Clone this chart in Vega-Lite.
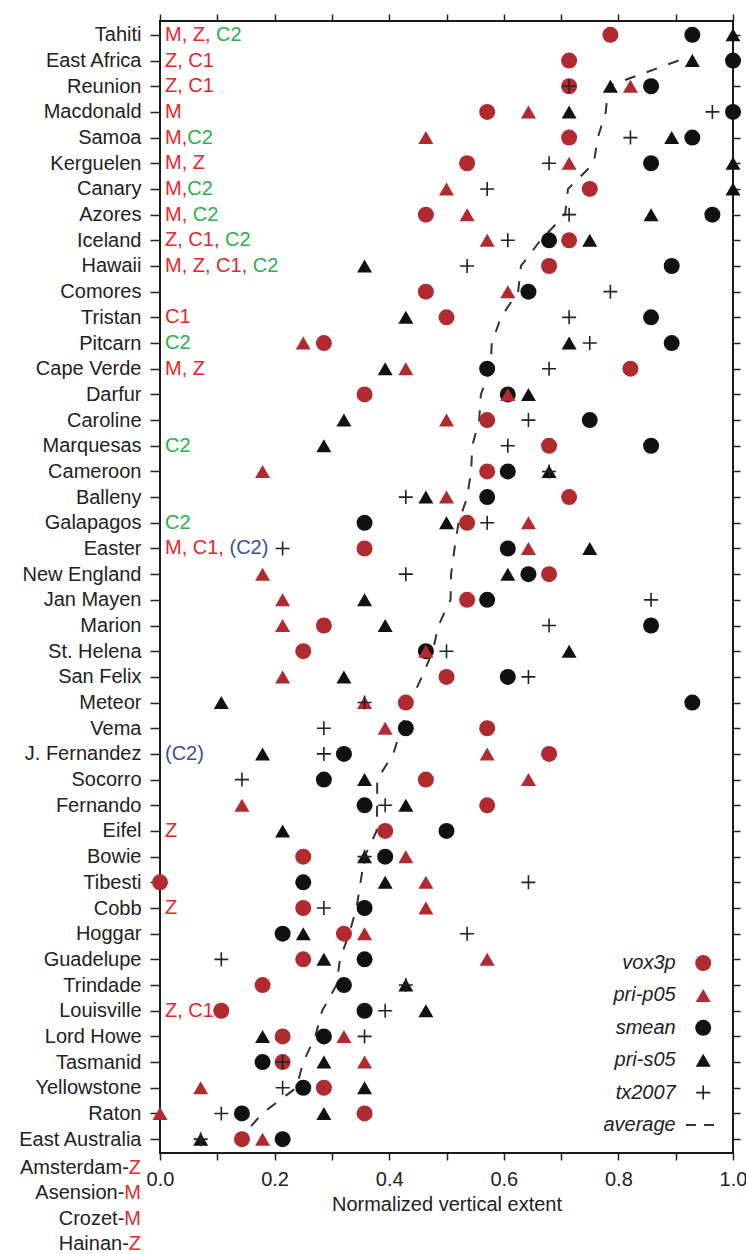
{
  "$schema": "https://vega.github.io/schema/vega-lite/v6.json",
  "width": 573,
  "height": 1132,
  "autosize": "none",
  "padding": {"left": 160, "top": 21, "right": 13, "bottom": 101},
  "background": "white",
  "config": {
    "view": {"stroke": "#1a1a1a", "strokeWidth": 2},
    "font": "Liberation Sans",
    "axis": {"labelFont": "Liberation Sans", "titleFont": "Liberation Sans", "labelFontSize": 20, "titleFontSize": 20, "titleFontWeight": "normal", "labelColor": "#222", "titleColor": "#222", "tickColor": "#222", "tickWidth": 1.5, "domain": false, "grid": false}
  },
  "datasets": {
    "points": [
      {"name": "Tahiti", "series": "vox3p", "value": 0.786}, {"name": "Tahiti", "series": "smean", "value": 0.929}, {"name": "Tahiti", "series": "pri-s05", "value": 1.0},
      {"name": "East Africa", "series": "vox3p", "value": 0.714}, {"name": "East Africa", "series": "pri-s05", "value": 0.929}, {"name": "East Africa", "series": "smean", "value": 1.0},
      {"name": "Reunion", "series": "vox3p", "value": 0.714}, {"name": "Reunion", "series": "tx2007", "value": 0.714}, {"name": "Reunion", "series": "pri-s05", "value": 0.786}, {"name": "Reunion", "series": "pri-p05", "value": 0.821}, {"name": "Reunion", "series": "smean", "value": 0.857},
      {"name": "Macdonald", "series": "vox3p", "value": 0.571}, {"name": "Macdonald", "series": "pri-p05", "value": 0.643}, {"name": "Macdonald", "series": "pri-s05", "value": 0.714}, {"name": "Macdonald", "series": "tx2007", "value": 0.964}, {"name": "Macdonald", "series": "smean", "value": 1.0},
      {"name": "Samoa", "series": "pri-p05", "value": 0.464}, {"name": "Samoa", "series": "vox3p", "value": 0.714}, {"name": "Samoa", "series": "tx2007", "value": 0.821}, {"name": "Samoa", "series": "pri-s05", "value": 0.893}, {"name": "Samoa", "series": "smean", "value": 0.929},
      {"name": "Kerguelen", "series": "vox3p", "value": 0.536}, {"name": "Kerguelen", "series": "tx2007", "value": 0.679}, {"name": "Kerguelen", "series": "pri-p05", "value": 0.714}, {"name": "Kerguelen", "series": "smean", "value": 0.857}, {"name": "Kerguelen", "series": "pri-s05", "value": 1.0},
      {"name": "Canary", "series": "pri-p05", "value": 0.5}, {"name": "Canary", "series": "tx2007", "value": 0.571}, {"name": "Canary", "series": "vox3p", "value": 0.75}, {"name": "Canary", "series": "pri-s05", "value": 1.0},
      {"name": "Azores", "series": "vox3p", "value": 0.464}, {"name": "Azores", "series": "pri-p05", "value": 0.536}, {"name": "Azores", "series": "tx2007", "value": 0.714}, {"name": "Azores", "series": "pri-s05", "value": 0.857}, {"name": "Azores", "series": "smean", "value": 0.964},
      {"name": "Iceland", "series": "pri-p05", "value": 0.571}, {"name": "Iceland", "series": "tx2007", "value": 0.607}, {"name": "Iceland", "series": "smean", "value": 0.679}, {"name": "Iceland", "series": "vox3p", "value": 0.714}, {"name": "Iceland", "series": "pri-s05", "value": 0.75},
      {"name": "Hawaii", "series": "pri-s05", "value": 0.357}, {"name": "Hawaii", "series": "tx2007", "value": 0.536}, {"name": "Hawaii", "series": "vox3p", "value": 0.679}, {"name": "Hawaii", "series": "smean", "value": 0.893},
      {"name": "Comores", "series": "vox3p", "value": 0.464}, {"name": "Comores", "series": "pri-p05", "value": 0.607}, {"name": "Comores", "series": "smean", "value": 0.643}, {"name": "Comores", "series": "tx2007", "value": 0.786},
      {"name": "Tristan", "series": "pri-s05", "value": 0.429}, {"name": "Tristan", "series": "vox3p", "value": 0.5}, {"name": "Tristan", "series": "tx2007", "value": 0.714}, {"name": "Tristan", "series": "smean", "value": 0.857},
      {"name": "Pitcarn", "series": "pri-p05", "value": 0.25}, {"name": "Pitcarn", "series": "vox3p", "value": 0.286}, {"name": "Pitcarn", "series": "pri-s05", "value": 0.714}, {"name": "Pitcarn", "series": "tx2007", "value": 0.75}, {"name": "Pitcarn", "series": "smean", "value": 0.893},
      {"name": "Cape Verde", "series": "pri-s05", "value": 0.393}, {"name": "Cape Verde", "series": "pri-p05", "value": 0.429}, {"name": "Cape Verde", "series": "smean", "value": 0.571}, {"name": "Cape Verde", "series": "tx2007", "value": 0.679}, {"name": "Cape Verde", "series": "vox3p", "value": 0.821},
      {"name": "Darfur", "series": "vox3p", "value": 0.357}, {"name": "Darfur", "series": "smean", "value": 0.607}, {"name": "Darfur", "series": "pri-p05", "value": 0.607}, {"name": "Darfur", "series": "pri-s05", "value": 0.643},
      {"name": "Caroline", "series": "pri-s05", "value": 0.321}, {"name": "Caroline", "series": "pri-p05", "value": 0.5}, {"name": "Caroline", "series": "vox3p", "value": 0.571}, {"name": "Caroline", "series": "tx2007", "value": 0.643}, {"name": "Caroline", "series": "smean", "value": 0.75},
      {"name": "Marquesas", "series": "pri-s05", "value": 0.286}, {"name": "Marquesas", "series": "tx2007", "value": 0.607}, {"name": "Marquesas", "series": "vox3p", "value": 0.679}, {"name": "Marquesas", "series": "smean", "value": 0.857},
      {"name": "Cameroon", "series": "pri-p05", "value": 0.179}, {"name": "Cameroon", "series": "vox3p", "value": 0.571}, {"name": "Cameroon", "series": "smean", "value": 0.607}, {"name": "Cameroon", "series": "pri-s05", "value": 0.679}, {"name": "Cameroon", "series": "tx2007", "value": 0.679},
      {"name": "Balleny", "series": "tx2007", "value": 0.429}, {"name": "Balleny", "series": "pri-s05", "value": 0.464}, {"name": "Balleny", "series": "pri-p05", "value": 0.5}, {"name": "Balleny", "series": "smean", "value": 0.571}, {"name": "Balleny", "series": "vox3p", "value": 0.714},
      {"name": "Galapagos", "series": "smean", "value": 0.357}, {"name": "Galapagos", "series": "pri-s05", "value": 0.5}, {"name": "Galapagos", "series": "vox3p", "value": 0.536}, {"name": "Galapagos", "series": "tx2007", "value": 0.571}, {"name": "Galapagos", "series": "pri-p05", "value": 0.643},
      {"name": "Easter", "series": "tx2007", "value": 0.214}, {"name": "Easter", "series": "vox3p", "value": 0.357}, {"name": "Easter", "series": "smean", "value": 0.607}, {"name": "Easter", "series": "pri-p05", "value": 0.643}, {"name": "Easter", "series": "pri-s05", "value": 0.75},
      {"name": "New England", "series": "pri-p05", "value": 0.179}, {"name": "New England", "series": "tx2007", "value": 0.429}, {"name": "New England", "series": "pri-s05", "value": 0.607}, {"name": "New England", "series": "smean", "value": 0.643}, {"name": "New England", "series": "vox3p", "value": 0.679},
      {"name": "Jan Mayen", "series": "pri-p05", "value": 0.214}, {"name": "Jan Mayen", "series": "pri-s05", "value": 0.357}, {"name": "Jan Mayen", "series": "vox3p", "value": 0.536}, {"name": "Jan Mayen", "series": "smean", "value": 0.571}, {"name": "Jan Mayen", "series": "tx2007", "value": 0.857},
      {"name": "Marion", "series": "pri-p05", "value": 0.214}, {"name": "Marion", "series": "vox3p", "value": 0.286}, {"name": "Marion", "series": "pri-s05", "value": 0.393}, {"name": "Marion", "series": "tx2007", "value": 0.679}, {"name": "Marion", "series": "smean", "value": 0.857},
      {"name": "St. Helena", "series": "vox3p", "value": 0.25}, {"name": "St. Helena", "series": "smean", "value": 0.464}, {"name": "St. Helena", "series": "pri-p05", "value": 0.464}, {"name": "St. Helena", "series": "tx2007", "value": 0.5}, {"name": "St. Helena", "series": "pri-s05", "value": 0.714},
      {"name": "San Felix", "series": "pri-p05", "value": 0.214}, {"name": "San Felix", "series": "pri-s05", "value": 0.321}, {"name": "San Felix", "series": "vox3p", "value": 0.5}, {"name": "San Felix", "series": "smean", "value": 0.607}, {"name": "San Felix", "series": "tx2007", "value": 0.643},
      {"name": "Meteor", "series": "pri-s05", "value": 0.107}, {"name": "Meteor", "series": "pri-p05", "value": 0.357}, {"name": "Meteor", "series": "tx2007", "value": 0.357}, {"name": "Meteor", "series": "vox3p", "value": 0.429}, {"name": "Meteor", "series": "smean", "value": 0.929},
      {"name": "Vema", "series": "tx2007", "value": 0.286}, {"name": "Vema", "series": "pri-p05", "value": 0.393}, {"name": "Vema", "series": "smean", "value": 0.429}, {"name": "Vema", "series": "vox3p", "value": 0.571},
      {"name": "J. Fernandez", "series": "pri-s05", "value": 0.179}, {"name": "J. Fernandez", "series": "tx2007", "value": 0.286}, {"name": "J. Fernandez", "series": "smean", "value": 0.321}, {"name": "J. Fernandez", "series": "pri-p05", "value": 0.571}, {"name": "J. Fernandez", "series": "vox3p", "value": 0.679},
      {"name": "Socorro", "series": "tx2007", "value": 0.143}, {"name": "Socorro", "series": "smean", "value": 0.286}, {"name": "Socorro", "series": "pri-s05", "value": 0.357}, {"name": "Socorro", "series": "vox3p", "value": 0.464}, {"name": "Socorro", "series": "pri-p05", "value": 0.643},
      {"name": "Fernando", "series": "pri-p05", "value": 0.143}, {"name": "Fernando", "series": "smean", "value": 0.357}, {"name": "Fernando", "series": "tx2007", "value": 0.393}, {"name": "Fernando", "series": "pri-s05", "value": 0.429}, {"name": "Fernando", "series": "vox3p", "value": 0.571},
      {"name": "Eifel", "series": "pri-s05", "value": 0.214}, {"name": "Eifel", "series": "vox3p", "value": 0.393}, {"name": "Eifel", "series": "smean", "value": 0.5},
      {"name": "Bowie", "series": "vox3p", "value": 0.25}, {"name": "Bowie", "series": "pri-s05", "value": 0.357}, {"name": "Bowie", "series": "tx2007", "value": 0.357}, {"name": "Bowie", "series": "smean", "value": 0.393}, {"name": "Bowie", "series": "pri-p05", "value": 0.429},
      {"name": "Tibesti", "series": "vox3p", "value": 0.0}, {"name": "Tibesti", "series": "smean", "value": 0.25}, {"name": "Tibesti", "series": "pri-s05", "value": 0.393}, {"name": "Tibesti", "series": "pri-p05", "value": 0.464}, {"name": "Tibesti", "series": "tx2007", "value": 0.643},
      {"name": "Cobb", "series": "vox3p", "value": 0.25}, {"name": "Cobb", "series": "tx2007", "value": 0.286}, {"name": "Cobb", "series": "smean", "value": 0.357}, {"name": "Cobb", "series": "pri-p05", "value": 0.464},
      {"name": "Hoggar", "series": "smean", "value": 0.214}, {"name": "Hoggar", "series": "pri-s05", "value": 0.25}, {"name": "Hoggar", "series": "vox3p", "value": 0.321}, {"name": "Hoggar", "series": "pri-p05", "value": 0.357}, {"name": "Hoggar", "series": "tx2007", "value": 0.536},
      {"name": "Guadelupe", "series": "tx2007", "value": 0.107}, {"name": "Guadelupe", "series": "vox3p", "value": 0.25}, {"name": "Guadelupe", "series": "pri-s05", "value": 0.286}, {"name": "Guadelupe", "series": "smean", "value": 0.357}, {"name": "Guadelupe", "series": "pri-p05", "value": 0.571},
      {"name": "Trindade", "series": "vox3p", "value": 0.179}, {"name": "Trindade", "series": "smean", "value": 0.321}, {"name": "Trindade", "series": "pri-s05", "value": 0.429}, {"name": "Trindade", "series": "tx2007", "value": 0.429},
      {"name": "Louisville", "series": "vox3p", "value": 0.107}, {"name": "Louisville", "series": "smean", "value": 0.357}, {"name": "Louisville", "series": "tx2007", "value": 0.393}, {"name": "Louisville", "series": "pri-s05", "value": 0.464},
      {"name": "Lord Howe", "series": "pri-s05", "value": 0.179}, {"name": "Lord Howe", "series": "vox3p", "value": 0.214}, {"name": "Lord Howe", "series": "smean", "value": 0.286}, {"name": "Lord Howe", "series": "pri-p05", "value": 0.321}, {"name": "Lord Howe", "series": "tx2007", "value": 0.357},
      {"name": "Tasmanid", "series": "smean", "value": 0.179}, {"name": "Tasmanid", "series": "vox3p", "value": 0.214}, {"name": "Tasmanid", "series": "tx2007", "value": 0.214}, {"name": "Tasmanid", "series": "pri-s05", "value": 0.286}, {"name": "Tasmanid", "series": "pri-p05", "value": 0.357},
      {"name": "Yellowstone", "series": "pri-p05", "value": 0.071}, {"name": "Yellowstone", "series": "tx2007", "value": 0.214}, {"name": "Yellowstone", "series": "smean", "value": 0.25}, {"name": "Yellowstone", "series": "vox3p", "value": 0.286}, {"name": "Yellowstone", "series": "pri-s05", "value": 0.357},
      {"name": "Raton", "series": "pri-p05", "value": 0.0}, {"name": "Raton", "series": "tx2007", "value": 0.107}, {"name": "Raton", "series": "smean", "value": 0.143}, {"name": "Raton", "series": "pri-s05", "value": 0.286}, {"name": "Raton", "series": "vox3p", "value": 0.357},
      {"name": "East Australia", "series": "pri-s05", "value": 0.071}, {"name": "East Australia", "series": "tx2007", "value": 0.071}, {"name": "East Australia", "series": "vox3p", "value": 0.143}, {"name": "East Australia", "series": "pri-p05", "value": 0.179}, {"name": "East Australia", "series": "smean", "value": 0.214}
    ],
    "avg": [
      {"rank": 2, "name": "East Africa", "value": 0.905}, {"rank": 3, "name": "Reunion", "value": 0.782}, {"rank": 4, "name": "Macdonald", "value": 0.778},
      {"rank": 5, "name": "Samoa", "value": 0.764}, {"rank": 6, "name": "Kerguelen", "value": 0.757}, {"rank": 7, "name": "Canary", "value": 0.712},
      {"rank": 8, "name": "Azores", "value": 0.707}, {"rank": 9, "name": "Iceland", "value": 0.664}, {"rank": 10, "name": "Hawaii", "value": 0.63},
      {"rank": 11, "name": "Comores", "value": 0.625}, {"rank": 12, "name": "Tristan", "value": 0.595}, {"rank": 13, "name": "Pitcarn", "value": 0.579},
      {"rank": 14, "name": "Cape Verde", "value": 0.577}, {"rank": 15, "name": "Darfur", "value": 0.56}, {"rank": 16, "name": "Caroline", "value": 0.557},
      {"rank": 17, "name": "Marquesas", "value": 0.545}, {"rank": 18, "name": "Cameroon", "value": 0.543}, {"rank": 19, "name": "Balleny", "value": 0.536},
      {"rank": 20, "name": "Galapagos", "value": 0.521}, {"rank": 21, "name": "Easter", "value": 0.514}, {"rank": 22, "name": "New England", "value": 0.508},
      {"rank": 23, "name": "Jan Mayen", "value": 0.507}, {"rank": 24, "name": "Marion", "value": 0.486}, {"rank": 25, "name": "St. Helena", "value": 0.476},
      {"rank": 26, "name": "San Felix", "value": 0.457}, {"rank": 27, "name": "Meteor", "value": 0.436}, {"rank": 28, "name": "Vema", "value": 0.421},
      {"rank": 29, "name": "J. Fernandez", "value": 0.407}, {"rank": 30, "name": "Socorro", "value": 0.379}, {"rank": 31, "name": "Fernando", "value": 0.379},
      {"rank": 32, "name": "Eifel", "value": 0.378}, {"rank": 33, "name": "Bowie", "value": 0.357}, {"rank": 34, "name": "Tibesti", "value": 0.35},
      {"rank": 35, "name": "Cobb", "value": 0.343}, {"rank": 36, "name": "Hoggar", "value": 0.33}, {"rank": 37, "name": "Guadelupe", "value": 0.314},
      {"rank": 38, "name": "Trindade", "value": 0.308}, {"rank": 39, "name": "Louisville", "value": 0.283}, {"rank": 40, "name": "Lord Howe", "value": 0.271},
      {"rank": 41, "name": "Tasmanid", "value": 0.25}, {"rank": 42, "name": "Yellowstone", "value": 0.238}, {"rank": 43, "name": "Raton", "value": 0.178},
      {"rank": 44, "name": "East Australia", "value": 0.14}
    ],
    "notes": [
      {"name": "Tahiti", "note": "M, Z, C2", "red": "M, Z,", "rest": "C2", "col": "green"},
      {"name": "East Africa", "note": "Z, C1", "red": "Z, C1", "rest": "", "col": "red"},
      {"name": "Reunion", "note": "Z, C1", "red": "Z, C1", "rest": "", "col": "red"},
      {"name": "Macdonald", "note": "M", "red": "M", "rest": "", "col": "red"},
      {"name": "Samoa", "note": "M,C2", "red": "M,", "rest": "C2", "col": "green"},
      {"name": "Kerguelen", "note": "M, Z", "red": "M, Z", "rest": "", "col": "red"},
      {"name": "Canary", "note": "M,C2", "red": "M,", "rest": "C2", "col": "green"},
      {"name": "Azores", "note": "M, C2", "red": "M,", "rest": "C2", "col": "green"},
      {"name": "Iceland", "note": "Z, C1, C2", "red": "Z, C1,", "rest": "C2", "col": "green"},
      {"name": "Hawaii", "note": "M, Z, C1, C2", "red": "M, Z, C1,", "rest": "C2", "col": "green"},
      {"name": "Tristan", "note": "C1", "red": "C1", "rest": "", "col": "red"},
      {"name": "Pitcarn", "note": "C2", "red": "", "rest": "C2", "col": "green"},
      {"name": "Cape Verde", "note": "M, Z", "red": "M, Z", "rest": "", "col": "red"},
      {"name": "Marquesas", "note": "C2", "red": "", "rest": "C2", "col": "green"},
      {"name": "Galapagos", "note": "C2", "red": "", "rest": "C2", "col": "green"},
      {"name": "Easter", "note": "M, C1, (C2)", "red": "M, C1,", "rest": "(C2)", "col": "blue"},
      {"name": "J. Fernandez", "note": "(C2)", "red": "", "rest": "(C2)", "col": "blue"},
      {"name": "Eifel", "note": "Z", "red": "Z", "rest": "", "col": "red"},
      {"name": "Cobb", "note": "Z", "red": "Z", "rest": "", "col": "red"},
      {"name": "Louisville", "note": "Z, C1", "red": "Z, C1", "rest": "", "col": "red"}
    ],
    "legend": [
      {"series": "vox3p"}, {"series": "pri-p05"}, {"series": "smean"}, {"series": "pri-s05"}, {"series": "tx2007"}, {"series": "average"}
    ],
    "extra": [
      {"label": "Amsterdam-", "code": "Z"}, {"label": "Asension-", "code": "M"}, {"label": "Crozet-", "code": "M"}, {"label": "Hainan-", "code": "Z"}
    ]
  },
  "resolve": {"scale": {"y": "independent"}, "axis": {"x": "independent", "y": "independent"}},
  "layer": [
    {
      "resolve": {"axis": {"x": "independent", "y": "independent"}},
      "encoding": {
        "y": {"field": "name", "type": "nominal", "scale": {"type": "point", "padding": 0.54, "domain": ["Tahiti", "East Africa", "Reunion", "Macdonald", "Samoa", "Kerguelen", "Canary", "Azores", "Iceland", "Hawaii", "Comores", "Tristan", "Pitcarn", "Cape Verde", "Darfur", "Caroline", "Marquesas", "Cameroon", "Balleny", "Galapagos", "Easter", "New England", "Jan Mayen", "Marion", "St. Helena", "San Felix", "Meteor", "Vema", "J. Fernandez", "Socorro", "Fernando", "Eifel", "Bowie", "Tibesti", "Cobb", "Hoggar", "Guadelupe", "Trindade", "Louisville", "Lord Howe", "Tasmanid", "Yellowstone", "Raton", "East Australia"]}, "axis": null}
      },
      "layer": [
        {
          "data": {"name": "avg"},
          "mark": {"type": "line", "stroke": "#333", "strokeWidth": 2, "strokeDash": [11, 12]},
          "encoding": {
            "x": {"field": "value", "type": "quantitative", "scale": {"domain": [0, 1], "nice": false, "zero": false},
                  "axis": {"values": [0, 0.1, 0.2, 0.3, 0.4, 0.5, 0.6, 0.7, 0.8, 0.9, 1.0], "labelExpr": "round(datum.value*10) % 2 == 0 ? format(datum.value, '.1f') : ''", "title": "Normalized vertical extent", "tickSize": 7, "labelPadding": 9, "titlePadding": 5, "labelFlush": false, "labelOverlap": false}},
            "y": {"field": "name", "type": "nominal", "axis": {"title": null, "tickSize": 10, "labelPadding": 9}},
            "order": {"field": "rank", "type": "quantitative"}
          }
        },
        {
          "data": {"name": "avg"},
          "mark": {"type": "point", "opacity": 0},
          "encoding": {
            "x": {"field": "value", "type": "quantitative", "axis": {"orient": "top", "values": [0, 0.1, 0.2, 0.3, 0.4, 0.5, 0.6, 0.7, 0.8, 0.9, 1.0], "labels": false, "title": null, "tickSize": 7}},
            "y": {"field": "name", "type": "nominal", "axis": {"orient": "right", "labels": false, "title": null, "tickSize": 7}}
          }
        },
        {
          "data": {"name": "points"},
          "transform": [{"filter": "datum.series == 'smean'"}],
          "mark": {"type": "point", "filled": true, "shape": "circle", "size": 256, "color": "#111", "opacity": 1},
          "encoding": {"x": {"field": "value", "type": "quantitative", "axis": null}}
        },
        {
          "data": {"name": "points"},
          "transform": [{"filter": "datum.series == 'pri-s05'"}],
          "mark": {"type": "point", "filled": true, "shape": "triangle-up", "size": 225, "color": "#111", "opacity": 1},
          "encoding": {"x": {"field": "value", "type": "quantitative", "axis": null}}
        },
        {
          "data": {"name": "points"},
          "transform": [{"filter": "datum.series == 'pri-p05'"}],
          "mark": {"type": "point", "filled": true, "shape": "triangle-up", "size": 225, "color": "#b02a30", "opacity": 1},
          "encoding": {"x": {"field": "value", "type": "quantitative", "axis": null}}
        },
        {
          "data": {"name": "points"},
          "transform": [{"filter": "datum.series == 'vox3p'"}],
          "mark": {"type": "point", "filled": true, "shape": "circle", "size": 256, "color": "#b02a30", "opacity": 1},
          "encoding": {"x": {"field": "value", "type": "quantitative", "axis": null}}
        },
        {
          "data": {"name": "points"},
          "transform": [{"filter": "datum.series == 'tx2007'"}],
          "mark": {"type": "point", "filled": false, "shape": "M-1,0L1,0M0,-1L0,1", "size": 196, "stroke": "#222", "strokeWidth": 1.6, "opacity": 1},
          "encoding": {"x": {"field": "value", "type": "quantitative", "axis": null}}
        },
        {
          "data": {"name": "notes"},
          "transform": [{"filter": "datum.red != ''"}],
          "mark": {"type": "text", "align": "left", "baseline": "middle", "dx": 5, "fontSize": 20, "font": "Liberation Sans", "color": "#e8262b"},
          "encoding": {"x": {"datum": 0, "type": "quantitative", "axis": null}, "text": {"field": "red"}}
        },
        {
          "data": {"name": "notes"},
          "transform": [{"filter": "datum.red == ''"}],
          "mark": {"type": "text", "align": "left", "baseline": "middle", "dx": 5, "fontSize": 20, "font": "Liberation Sans"},
          "encoding": {"x": {"datum": 0, "type": "quantitative", "axis": null}, "text": {"field": "rest"},
            "color": {"field": "col", "type": "nominal", "scale": {"domain": ["red", "green", "blue"], "range": ["#e8262b", "#2bb04a", "#3b4da3"]}, "legend": null}}
        },
        {
          "data": {"name": "notes"},
          "transform": [{"filter": "datum.note == 'M,C2'"}],
          "mark": {"type": "text", "align": "left", "baseline": "middle", "dx": 27.2, "fontSize": 20, "font": "Liberation Sans"},
          "encoding": {"x": {"datum": 0, "type": "quantitative", "axis": null}, "text": {"field": "rest"},
            "color": {"field": "col", "type": "nominal", "legend": null}}
        },
        {
          "data": {"name": "notes"},
          "transform": [{"filter": "datum.note == 'M, C2'"}],
          "mark": {"type": "text", "align": "left", "baseline": "middle", "dx": 32.8, "fontSize": 20, "font": "Liberation Sans"},
          "encoding": {"x": {"datum": 0, "type": "quantitative", "axis": null}, "text": {"field": "rest"},
            "color": {"field": "col", "type": "nominal", "legend": null}}
        },
        {
          "data": {"name": "notes"},
          "transform": [{"filter": "datum.note == 'M, Z, C2'"}],
          "mark": {"type": "text", "align": "left", "baseline": "middle", "dx": 56.1, "fontSize": 20, "font": "Liberation Sans"},
          "encoding": {"x": {"datum": 0, "type": "quantitative", "axis": null}, "text": {"field": "rest"},
            "color": {"field": "col", "type": "nominal", "legend": null}}
        },
        {
          "data": {"name": "notes"},
          "transform": [{"filter": "datum.note == 'Z, C1, C2'"}],
          "mark": {"type": "text", "align": "left", "baseline": "middle", "dx": 65.0, "fontSize": 20, "font": "Liberation Sans"},
          "encoding": {"x": {"datum": 0, "type": "quantitative", "axis": null}, "text": {"field": "rest"},
            "color": {"field": "col", "type": "nominal", "legend": null}}
        },
        {
          "data": {"name": "notes"},
          "transform": [{"filter": "datum.note == 'M, C1, (C2)'"}],
          "mark": {"type": "text", "align": "left", "baseline": "middle", "dx": 69.5, "fontSize": 20, "font": "Liberation Sans"},
          "encoding": {"x": {"datum": 0, "type": "quantitative", "axis": null}, "text": {"field": "rest"},
            "color": {"field": "col", "type": "nominal", "legend": null}}
        },
        {
          "data": {"name": "notes"},
          "transform": [{"filter": "datum.note == 'M, Z, C1, C2'"}],
          "mark": {"type": "text", "align": "left", "baseline": "middle", "dx": 92.8, "fontSize": 20, "font": "Liberation Sans"},
          "encoding": {"x": {"datum": 0, "type": "quantitative", "axis": null}, "text": {"field": "rest"},
            "color": {"field": "col", "type": "nominal", "legend": null}}
        }
      ]
    },
    {
      "data": {"name": "legend"},
      "encoding": {
        "y": {"field": "series", "type": "nominal", "scale": {"type": "point", "padding": 0, "domain": ["vox3p", "pri-p05", "smean", "pri-s05", "tx2007", "average"], "range": [942, 1104]}, "axis": null}
      },
      "layer": [
        {
          "mark": {"type": "text", "align": "right", "baseline": "middle", "fontSize": 20, "fontStyle": "italic", "font": "Liberation Sans", "color": "#222"},
          "encoding": {"x": {"datum": 0.9, "type": "quantitative", "axis": null}, "text": {"field": "series"}}
        },
        {
          "transform": [{"filter": "datum.series == 'vox3p'"}],
          "mark": {"type": "point", "filled": true, "shape": "circle", "size": 256, "color": "#b02a30", "opacity": 1},
          "encoding": {"x": {"datum": 0.948, "type": "quantitative", "axis": null}}
        },
        {
          "transform": [{"filter": "datum.series == 'pri-p05'"}],
          "mark": {"type": "point", "filled": true, "shape": "triangle-up", "size": 225, "color": "#b02a30", "opacity": 1},
          "encoding": {"x": {"datum": 0.948, "type": "quantitative", "axis": null}}
        },
        {
          "transform": [{"filter": "datum.series == 'smean'"}],
          "mark": {"type": "point", "filled": true, "shape": "circle", "size": 256, "color": "#111", "opacity": 1},
          "encoding": {"x": {"datum": 0.948, "type": "quantitative", "axis": null}}
        },
        {
          "transform": [{"filter": "datum.series == 'pri-s05'"}],
          "mark": {"type": "point", "filled": true, "shape": "triangle-up", "size": 225, "color": "#111", "opacity": 1},
          "encoding": {"x": {"datum": 0.948, "type": "quantitative", "axis": null}}
        },
        {
          "transform": [{"filter": "datum.series == 'tx2007'"}],
          "mark": {"type": "point", "filled": false, "shape": "M-1,0L1,0M0,-1L0,1", "size": 196, "stroke": "#222", "strokeWidth": 1.6, "opacity": 1},
          "encoding": {"x": {"datum": 0.948, "type": "quantitative", "axis": null}}
        },
        {
          "transform": [{"filter": "datum.series == 'average'"}],
          "mark": {"type": "rule", "stroke": "#333", "strokeWidth": 2, "strokeDash": [10, 8]},
          "encoding": {"x": {"datum": 0.918, "type": "quantitative", "axis": null}, "x2": {"datum": 0.97}}
        }
      ]
    },
    {
      "data": {"name": "extra"},
      "encoding": {
        "y": {"field": "label", "type": "nominal", "scale": {"type": "point", "padding": 0, "domain": ["Amsterdam-", "Asension-", "Crozet-", "Hainan-"], "range": [1147, 1223]}, "axis": null},
        "x": {"datum": 0, "type": "quantitative", "axis": null}
      },
      "layer": [
        {
          "transform": [{"filter": "datum.code == 'Z'"}],
          "mark": {"type": "text", "align": "right", "baseline": "middle", "dx": -31.2, "fontSize": 20, "font": "Liberation Sans", "color": "#222"},
          "encoding": {"text": {"field": "label"}}
        },
        {
          "transform": [{"filter": "datum.code == 'M'"}],
          "mark": {"type": "text", "align": "right", "baseline": "middle", "dx": -35.7, "fontSize": 20, "font": "Liberation Sans", "color": "#222"},
          "encoding": {"text": {"field": "label"}}
        },
        {
          "mark": {"type": "text", "align": "right", "baseline": "middle", "dx": -19, "fontSize": 20, "font": "Liberation Sans", "color": "#e8262b"},
          "encoding": {"text": {"field": "code"}}
        }
      ]
    }
  ]
}
